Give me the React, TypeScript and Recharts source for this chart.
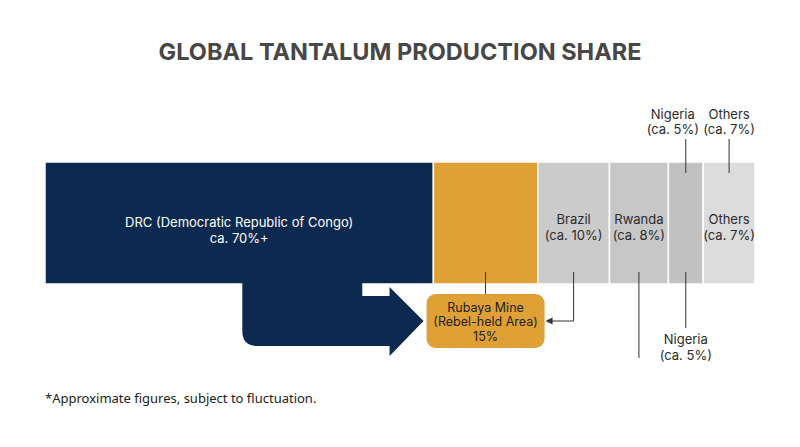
import React from 'react';
import { BarChart, Bar, XAxis, YAxis } from 'recharts';

const categories = ['Global tantalum production'];
const segmentKeys = ['drc', 'rubaya', 'brazil', 'rwanda', 'nigeria', 'others'];
const shares = [54.7, 14.7, 10.1, 8.3, 4.9, 7.3];
const segmentLabels = [
  ['DRC (Democratic Republic of Congo)', 'ca. 70%+'],
  ['Rubaya Mine', '(Rebel-held Area)', '15%'],
  ['Brazil', '(ca. 10%)'],
  ['Rwanda', '(ca. 8%)'],
  ['Nigeria', '(ca. 5%)'],
  ['Others', '(ca. 7%)'],
];
const segmentColors = ['#0c2a4f', '#dfa036', '#cbcbcb', '#c7c7c7', '#c1c1c1', '#dcdcdc'];
const titleText = 'GLOBAL TANTALUM PRODUCTION SHARE';
const footnoteText = '*Approximate figures, subject to fluctuation.';

const data = categories.map((name) => {
  const row: Record<string, any> = { name };
  segmentKeys.forEach((k, i) => (row[k] = shares[i]));
  return row;
});

const FONT = 'Inter, "Noto Sans", sans-serif';
const LINE = '#333';
const BOX_W = 118;
const BOX_H = 54;

const Txt = ({ x, y, children, fill = '#2b2b2b', size = 13 }: any) => (
  <text x={x} y={y} textAnchor="middle" dominantBaseline="central" fontFamily={FONT} fontSize={size} fill={fill}>
    {children}
  </text>
);

const makeShape = (i: number) => (props: any) => {
  const { x, y, width, height } = props;
  const k = width / shares[i];
  const cx = x + width / 2;
  const cy = y + height / 2;
  const bottom = y + height;
  const fill = segmentColors[i];
  const rect = <rect x={x} y={y} width={width} height={height} fill={fill} stroke="#fff" strokeWidth={1.5} />;
  const lbl = segmentLabels[i];

  if (i === 0) {
    const goldCx = x + width + (k * shares[1]) / 2;
    const tip = goldCx - BOX_W / 2 - 3;
    const L = x + width * 0.508;
    const bodyTop = bottom + 12;
    const bodyBot = bottom + 62;
    const headTop = bottom + 3;
    const headBot = bottom + 72;
    const midY = (bodyTop + bodyBot) / 2;
    const base = tip - 34;
    const d = `M${L},${bottom - 1} H${L + 120} V${bodyTop} H${base} V${headTop} L${tip},${midY} L${base},${headBot} V${bodyBot} H${L + 15} Q${L},${bodyBot} ${L},${bodyBot - 15} Z`;
    return (
      <g>
        {rect}
        <path d={d} fill={fill} />
        <Txt x={cx} y={cy - 1} fill="#fff">{lbl[0]}</Txt>
        <Txt x={cx} y={cy + 15} fill="#fff">{lbl[1]}</Txt>
      </g>
    );
  }
  if (i === 1) {
    const top = bottom + 10;
    return (
      <g>
        {rect}
        <line x1={cx} y1={bottom - 12} x2={cx} y2={top} stroke={LINE} strokeWidth={1} />
        <rect x={cx - BOX_W / 2} y={top} width={BOX_W} height={BOX_H} rx={9} fill={fill} />
        <Txt x={cx} y={top + 13} fill="#222" size={12.5}>{lbl[0]}</Txt>
        <Txt x={cx} y={top + 27.5} fill="#222" size={12.5}>{lbl[1]}</Txt>
        <Txt x={cx} y={top + 42} fill="#222" size={12.5}>{lbl[2]}</Txt>
      </g>
    );
  }
  if (i === 2) {
    const goldCx = x - (k * shares[1]) / 2;
    const boxRight = goldCx + BOX_W / 2 + 1;
    const ay = bottom + 37;
    return (
      <g>
        {rect}
        <Txt x={cx} y={cy - 4}>{lbl[0]}</Txt>
        <Txt x={cx} y={cy + 12}>{lbl[1]}</Txt>
        <polyline points={`${cx},${bottom - 12} ${cx},${ay} ${boxRight + 6},${ay}`} fill="none" stroke={LINE} strokeWidth={1} />
        <path d={`M${boxRight},${ay} L${boxRight + 7},${ay - 3.5} L${boxRight + 7},${ay + 3.5} Z`} fill={LINE} />
      </g>
    );
  }
  if (i === 3) {
    return (
      <g>
        {rect}
        <Txt x={cx} y={cy - 4}>{lbl[0]}</Txt>
        <Txt x={cx} y={cy + 12}>{lbl[1]}</Txt>
        <line x1={cx} y1={bottom - 12} x2={cx} y2={bottom + 74} stroke={LINE} strokeWidth={1} />
      </g>
    );
  }
  if (i === 4) {
    return (
      <g>
        {rect}
        <Txt x={cx - 13} y={y - 48}>{lbl[0]}</Txt>
        <Txt x={cx - 13} y={y - 33}>{lbl[1]}</Txt>
        <line x1={cx} y1={y - 23} x2={cx} y2={y + 11} stroke={LINE} strokeWidth={1} />
        <line x1={cx} y1={bottom - 12} x2={cx} y2={bottom + 44} stroke={LINE} strokeWidth={1} />
        <Txt x={cx} y={bottom + 55}>{lbl[0]}</Txt>
        <Txt x={cx} y={bottom + 71}>{lbl[1]}</Txt>
      </g>
    );
  }
  return (
    <g>
      {rect}
      <Txt x={cx} y={y - 48}>{lbl[0]}</Txt>
      <Txt x={cx} y={y - 33}>{lbl[1]}</Txt>
      <line x1={cx} y1={y - 23} x2={cx} y2={y + 11} stroke={LINE} strokeWidth={1} />
      <Txt x={cx} y={cy - 4}>{lbl[0]}</Txt>
      <Txt x={cx} y={cy + 12}>{lbl[1]}</Txt>
    </g>
  );
};

export default function App() {
  return (
    <div style={{ position: 'absolute', left: 0, top: 0, width: 800, height: 447, background: '#fff', overflow: 'hidden' }}>
      <div
        style={{
          position: 'absolute',
          top: 38,
          left: 0,
          width: 800,
          textAlign: 'center',
          fontFamily: FONT,
          fontWeight: 700,
          fontSize: 23.5,
          lineHeight: '28px',
          color: '#474747',
        }}
      >
        {titleText}
      </div>
      <div style={{ position: 'absolute', left: 0, top: 0 }}>
        <BarChart
          width={800}
          height={447}
          data={data}
          layout="vertical"
          margin={{ top: 97, right: 45, bottom: 89, left: 45 }}
          barCategoryGap={0}
        >
          <XAxis type="number" domain={[0, 100]} hide />
          <YAxis
            type="category"
            dataKey="name"
            width={0}
            tick={false}
            tickLine={false}
            axisLine={{ stroke: '#333', strokeWidth: 1 }}
            padding={{ top: 0, bottom: 9 }}
          />
          {segmentKeys.map((key, i) => (
            <Bar
              key={key}
              dataKey={key}
              stackId="s"
              fill={segmentColors[i]}
              barSize={122}
              isAnimationActive={false}
              shape={makeShape(i)}
            />
          ))}
        </BarChart>
      </div>
      <div
        style={{
          position: 'absolute',
          left: 45,
          top: 389,
          fontFamily: '"Noto Sans", sans-serif',
          fontSize: 13,
          lineHeight: '18px',
          color: '#222',
          whiteSpace: 'nowrap',
        }}
      >
        {footnoteText}
      </div>
    </div>
  );
}
